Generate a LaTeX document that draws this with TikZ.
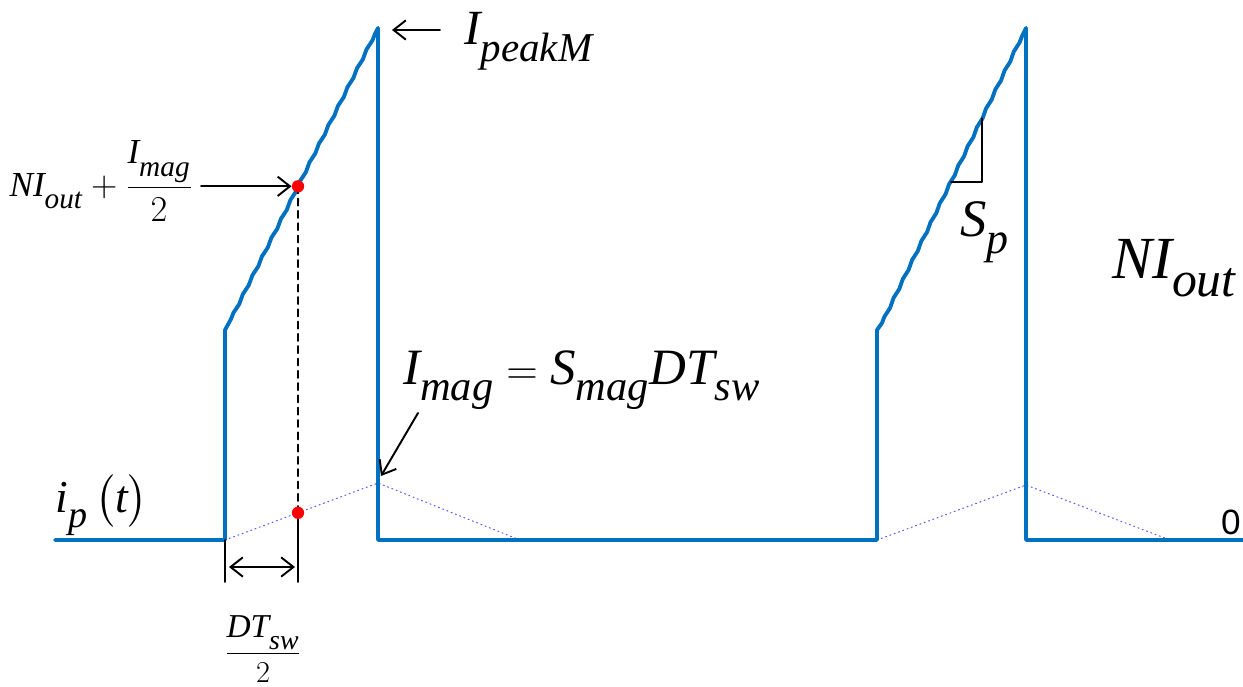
\documentclass[tikz,border=0pt]{standalone}
\usepackage{amsmath}
\usepackage{fontspec}
\setmainfont{Liberation Serif}
\newfontfamily\digitfont{Liberation Sans}
\usepackage[italic]{mathastext}
\usetikzlibrary{arrows.meta,calc,decorations.pathmorphing}

\definecolor{waveblue}{RGB}{0,112,192}
\definecolor{magblue}{RGB}{90,90,255}
\newcommand{\lsub}[1]{_{\lower0.2em\hbox{$\scriptstyle #1$}}}

\begin{document}
\begin{tikzpicture}[
		x=0.02cm, y=-0.02cm,
		line cap=round,
		line join=round,
		wave/.style={draw=waveblue, line width=2.2pt},
		magline/.style={draw=magblue, line width=0.6pt, dotted},
		jitter/.style={decoration={snake, amplitude=0.35pt, segment length=12pt}},
		guide/.style={line width=1.1pt, dash pattern=on 4pt off 3pt},
		dimline/.style={line width=1.1pt},
		tip/.style={line width=1.1pt, -{Straight Barb[length=7pt,width=11pt]}},
		dot/.style={circle, fill=red, inner sep=0pt, minimum size=7pt},
		lbl/.style={inner sep=0pt}
		]
		
		\useasboundingbox (0,0) rectangle (1243,686);
		
		% Waveform corners
		\coordinate (s0) at (55,540);
		\coordinate (b1) at (225,540);
		\coordinate (r1) at (225,330);
		\coordinate (k1) at (231,319);
		\coordinate (p1) at (378,28);
		\coordinate (f1) at (378,540);
		\coordinate (b2) at (877,540);
		\coordinate (r2) at (877,330);
		\coordinate (k2) at (882,323);
		\coordinate (p2) at (1026,28);
		\coordinate (f2) at (1026,540);
		\coordinate (e0) at (1243,540);
		
		% Magnetizing current
		\coordinate (m1) at (378,483);
		\coordinate (z1) at (520,540);
		\coordinate (m2) at (1026,485);
		\coordinate (z2) at (1170,540);
		\draw[magline] (b1) -- (m1) -- (z1);
		\draw[magline] (b2) -- (m2) -- (z2);
		
		% Primary current
		\draw[wave] (s0) -- (b1) -- (r1) -- (k1)
		decorate[jitter]{-- (p1)} -- (f1) -- (b2) -- (r2) -- (k2)
		decorate[jitter]{-- (p2)} -- (f2) -- (e0);
		
		% Mid-ramp points
		\coordinate (hi) at ($(k1)!0.456!(p1)$);
		\coordinate (lo) at ($(b1)!0.477!(m1)$);
		\draw[guide] (hi) -- (lo);
		
		% Half on-time
		\coordinate (d1) at (225,582);
		\coordinate (d2) at (lo |- d1);
		\coordinate (a1) at (229,567);
		\coordinate (a2) at (295,567);
		\draw[dimline] (b1) -- (d1);
		\draw[dimline] (lo) -- (d2);
		\draw[dimline, {Straight Barb[length=7pt,width=11pt]}-{Straight Barb[length=7pt,width=11pt]}] (a1) -- (a2);
		\node[dot] (hidot) at (hi) {};
		\node[dot] (lodot) at (lo) {};
		\node[lbl, font=\fontsize{19}{23}\selectfont] (half) at (263,649) {$\dfrac{DT\lsub{sw}}{2}$};
		
		% Slope marker
		\coordinate (t1) at ($(k2)!0.479!(p2)$);
		\coordinate (t3) at ($(k2)!0.694!(p2)$);
		\coordinate (t2) at (t3 |- t1);
		\draw[dimline] (t1) -- (t2) -- (t3);
		\node[lbl, anchor=base west, font=\fontsize{30}{36}\selectfont] (sp) at (960,236) {$S\lsub{p}$};
		
		% Labels
		\node[lbl, anchor=base west, font=\fontsize{28}{34}\selectfont] (peak) at (464,45) {$I\lsub{peakM}$};
		\coordinate (pktail) at (440,30);
		\coordinate (pkhead) at (392,30);
		\draw[tip] (pktail) -- (pkhead);
		
		\node[lbl, anchor=east, font=\fontsize{20}{24}\selectfont] (mid) at (193,181) {$NI\lsub{out}+\dfrac{I\lsub{mag}}{2}$};
		\draw[tip] ($(hi -| mid.east)+(8,0)$) -- (hidot.west);
		
		\node[lbl, anchor=base west, font=\fontsize{29}{35}\selectfont] (imag) at (403,384) {$I\lsub{mag}=S\lsub{mag}DT\lsub{sw}$};
		\coordinate (imtail) at (418,413);
		\coordinate (imhead) at (381,476);
		\draw[tip] (imtail) -- (imhead);
		
		\node[lbl, anchor=base west, font=\fontsize{26}{32}\selectfont] (ip) at (55,512) {$i\lsub{p}\,\bigl(t\bigr)$};
		\node[lbl, anchor=base west, font=\fontsize{34}{40}\selectfont] (niout) at (1112,278) {$NI\lsub{out}$};
		\node[lbl, font=\digitfont\fontsize{20}{24}\selectfont] (zero) at (1231,522) {0};
		
	\end{tikzpicture}
\end{document}
